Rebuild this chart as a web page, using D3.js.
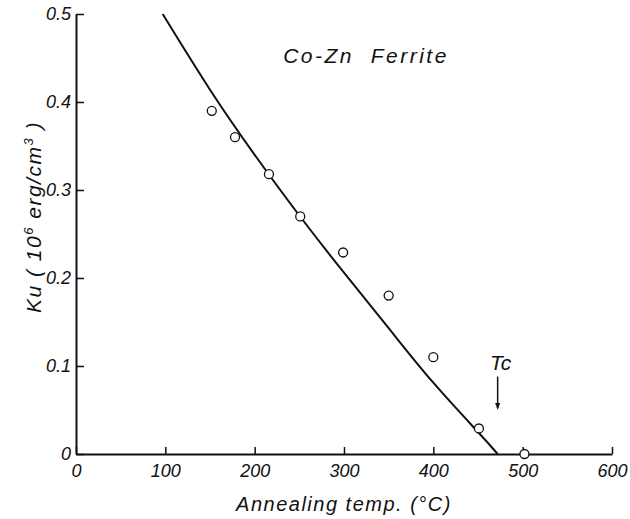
<!DOCTYPE html>
<html>
<head>
<meta charset="utf-8">
<script src="https://cdn.jsdelivr.net/npm/d3@7"></script>
<style>
  body { margin: 0; background: #fff; }
  text { font-family: 'Liberation Sans', sans-serif; font-style: italic; fill: #111; }
</style>
</head>
<body>
<script>
'use strict';

// measured points (circles)
const tempPoints = [152, 178, 216, 251, 299, 350, 400, 451, 502];
const kuPoints = [0.39, 0.36, 0.318, 0.27, 0.229, 0.18, 0.11, 0.029, 0];

// theoretical curve
const tempCurve = [97, 150, 200, 250, 300, 350, 400, 450, 472];
const kuCurve = [0.5, 0.414, 0.34, 0.271, 0.206, 0.143, 0.081, 0.025, 0];

const xTicks = [0, 100, 200, 300, 400, 500, 600];
const yTicks = [0, 0.1, 0.2, 0.3, 0.4, 0.5];
const yTickLabels = ['0', '0.1', '0.2', '0.3', '0.4', '0.5'];

const tc = 472;

const width = 630;
const height = 519;
const margin = {left: 76, right: 18, top: 14, bottom: 65};

const xScale = d3.scaleLinear().domain([0, 600]).range([margin.left, width - margin.right]);
const yScale = d3.scaleLinear().domain([0, 0.5]).range([height - margin.bottom, margin.top]);

const svg = d3.select('body').append('svg')
  .attr('width', width)
  .attr('height', height);

const xAxis = svg.append('g')
  .attr('transform', 'translate(0,' + yScale(0) + ')')
  .call(d3.axisBottom(xScale).tickValues(xTicks).tickSizeInner(-7).tickSizeOuter(0).tickPadding(10));

const yAxis = svg.append('g')
  .attr('transform', 'translate(' + xScale(0) + ',0)')
  .call(d3.axisLeft(yScale).tickValues(yTicks).tickSizeInner(-8).tickSizeOuter(0).tickPadding(5)
    .tickFormat((d, i) => yTickLabels[i]));

[xAxis, yAxis].forEach(a => {
  a.select('.domain').attr('stroke', '#111').attr('stroke-width', 2);
  a.selectAll('.tick line').attr('stroke', '#111').attr('stroke-width', 1.5);
  a.selectAll('.tick text')
    .attr('font-size', 18)
    .attr('font-family', 'Liberation Sans, sans-serif')
    .attr('fill', '#111');
});
xAxis.selectAll('.tick text').attr('dy', '0.71em');

const curveData = tempCurve.map((t, i) => [t, kuCurve[i]]);

svg.append('path')
  .datum(curveData)
  .attr('fill', 'none')
  .attr('stroke', '#111')
  .attr('stroke-width', 2)
  .attr('d', d3.line()
    .x(d => xScale(d[0]))
    .y(d => yScale(d[1]))
    .curve(d3.curveNatural));

svg.append('g')
  .selectAll('circle')
  .data(tempPoints.map((t, i) => [t, kuPoints[i]]))
  .join('circle')
  .attr('cx', d => xScale(d[0]))
  .attr('cy', d => yScale(d[1]))
  .attr('r', 4.5)
  .attr('fill', '#fff')
  .attr('stroke', '#111')
  .attr('stroke-width', 1.3);

// Tc arrow
const ax = xScale(tc);
svg.append('line')
  .attr('x1', ax).attr('x2', ax)
  .attr('y1', yScale(0.088)).attr('y2', yScale(0.052))
  .attr('stroke', '#111').attr('stroke-width', 1.5);
svg.append('path')
  .attr('d', 'M' + (ax - 2.5) + ',' + (yScale(0.058)) + 'L' + ax + ',' + yScale(0.05) + 'L' + (ax + 2.5) + ',' + yScale(0.058) + 'Z')
  .attr('fill', '#111');
svg.append('text')
  .attr('x', ax + 3)
  .attr('y', yScale(0.095))
  .attr('text-anchor', 'middle')
  .attr('font-size', 21)
  .text('Tc');

// title
svg.append('text')
  .attr('x', 366)
  .attr('y', 63)
  .attr('text-anchor', 'middle')
  .attr('font-size', 21)
  .attr('letter-spacing', 2.5)
  .attr('xml:space', 'preserve')
  .text('Co-Zn  Ferrite');

// x axis title
svg.append('text')
  .attr('x', (xScale(0) + xScale(600)) / 2)
  .attr('y', 511)
  .attr('text-anchor', 'middle')
  .attr('font-size', 20)
  .attr('letter-spacing', 1.5)
  .text('Annealing temp. (°C)');

// y axis title
const yTitle = svg.append('text')
  .attr('transform', 'translate(41,' + 217 + ') rotate(-90)')
  .attr('text-anchor', 'middle')
  .attr('font-size', 21)
  .attr('letter-spacing', 1.5);
yTitle.append('tspan').text('Ku ( 10');
yTitle.append('tspan').attr('dy', -8).attr('font-size', 13).text('6');
yTitle.append('tspan').attr('dy', 8).text(' erg/cm');
yTitle.append('tspan').attr('dy', -8).attr('font-size', 13).text('3');
yTitle.append('tspan').attr('dy', 8).text(' )');
</script>
</body>
</html>
